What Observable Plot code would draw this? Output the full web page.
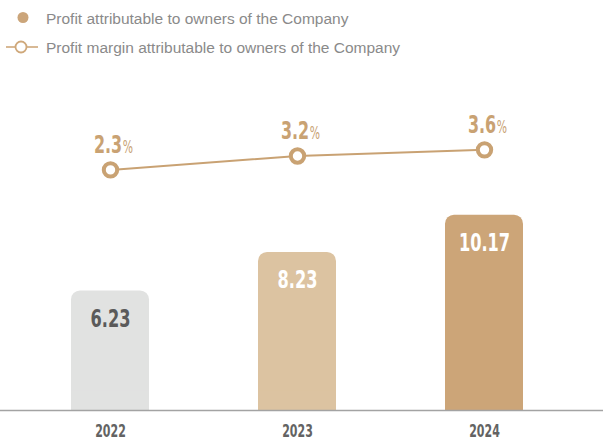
<!DOCTYPE html>
<html>
<head>
<meta charset="utf-8">
<script src="https://cdn.jsdelivr.net/npm/d3@7"></script>
<script src="https://cdn.jsdelivr.net/npm/@observablehq/plot@0.6"></script>
<style>
  html, body { margin: 0; padding: 0; background: #fff; }
  #legend { position: relative; width: 607px; height: 62px; font-family: "Liberation Sans", Arial, sans-serif; font-size: 15.5px; color: #8a8a8a; }
  #legend .row { position: absolute; left: 0; width: 607px; height: 20px; }
  #legend .row span { position: absolute; left: 46px; top: 1px; white-space: nowrap; line-height: 20px; }
  #chart { position: relative; width: 607px; height: 379px; }
  #chart svg { position: absolute; left: 0; top: 0; }
</style>
</head>
<body>
<div id="legend">
  <div class="row" style="top:8px">
    <svg width="40" height="20" style="position:absolute;left:0;top:0"><circle cx="23" cy="9.5" r="5.5" fill="#cba57a"></circle></svg>
    <span>Profit attributable to owners of the Company</span>
  </div>
  <div class="row" style="top:37px">
    <svg width="40" height="20" style="position:absolute;left:0;top:0"><line x1="6" x2="38" y1="10" y2="10" stroke="#cfa87a" stroke-width="1.6"></line><circle cx="21" cy="10" r="5.5" fill="#fff" stroke="#cfa87a" stroke-width="1.8"></circle></svg>
    <span>Profit margin attributable to owners of the Company</span>
  </div>
</div>
<div id="chart"></div>
<script>
const years = ["2022", "2023", "2024"];
const profit = [6.23, 8.23, 10.17];
const marginPct = [2.3, 3.2, 3.6];
const barColors = ["#e1e2e1", "#dcc3a1", "#cca578"];

const data = years.map((year, i) => ({ year, profit: profit[i], margin: marginPct[i] }));

const condensed = '"DejaVu Sans Condensed", "DejaVu Sans", sans-serif';
const gold = "#c9a273";
const W = 607, H = 379;
const xOpts = { type: "band", domain: years, paddingInner: 0.583, paddingOuter: 0.4037, align: 0.47 };

const main = Plot.plot({
  width: W, height: H,
  marginLeft: 0, marginRight: 4, marginTop: 40.8, marginBottom: 31,
  style: { fontFamily: condensed, background: "transparent", overflow: "visible" },
  x: { ...xOpts, axis: null },
  y: { domain: [0, 16], axis: null },
  color: { domain: years, range: barColors },
  marks: [
    Plot.barY(data, { x: "year", y: "profit", fill: "year", rx: 9 }),
    Plot.barY(data, { x: "year", y1: () => 0, y2: () => 1, fill: "year" }),
    Plot.ruleY([0], { stroke: "#a3a3a3", strokeWidth: 1.5 }),
    Plot.text(data, { className: "vlabel", filter: d => d.year === "2022", x: "year", y: "profit", text: d => d.profit.toFixed(2), dy: 36, lineAnchor: "bottom", fontSize: 25, fontWeight: "bold", fill: "#5a5a5a" }),
    Plot.text(data, { className: "vlabel", filter: d => d.year !== "2022", x: "year", y: "profit", text: d => d.profit.toFixed(2), dy: 36, lineAnchor: "bottom", fontSize: 25, fontWeight: "bold", fill: "#ffffff" }),
    Plot.axisX({ tickSize: 0, tickPadding: 14, fontSize: 17, fontWeight: "bold", color: "#636363", label: null })
  ]
});

const overlay = Plot.plot({
  width: W, height: H,
  marginLeft: 0, marginRight: 4,
  style: { fontFamily: condensed, background: "transparent", overflow: "visible" },
  x: { ...xOpts, axis: null },
  y: { domain: [0, 4], range: [142.8, 81.2], axis: null },
  marks: [
    Plot.lineY(data, { x: "year", y: "margin", stroke: gold, strokeWidth: 2 }),
    Plot.dot(data, { x: "year", y: "margin", r: 6.7, fill: "#fff", stroke: gold, strokeWidth: 4 }),
    Plot.text(data, { className: "plabel", x: "year", y: "margin", text: d => d.margin.toFixed(1) + "%", textAnchor: "middle", dx: 3, dy: -17, lineAnchor: "bottom", fontSize: 25, fontWeight: "bold", fill: gold })
  ]
});

const chart = document.getElementById("chart");
chart.appendChild(main);
chart.appendChild(overlay);

// render the "%" sign smaller and lighter, inside the same text element
d3.select(overlay).selectAll(".plabel text").each(function () {
  const s = this.textContent;
  const num = s.slice(0, -1);
  this.textContent = num;
  const t = document.createElementNS("http://www.w3.org/2000/svg", "tspan");
  t.setAttribute("font-size", 17);
  t.setAttribute("font-weight", "normal");
  t.setAttribute("dx", 1);
  t.textContent = "%";
  this.appendChild(t);
});

function squeeze(root, selector, ratio) {
  d3.select(root).selectAll(selector).each(function () {
    const L = this.getComputedTextLength();
    this.setAttribute("textLength", (L * ratio).toFixed(2));
    this.setAttribute("lengthAdjust", "spacingAndGlyphs");
  });
}
squeeze(main, ".vlabel text", 0.72);
squeeze(main, 'g[aria-label="x-axis tick label"] text', 0.72);
squeeze(overlay, ".plabel text", 0.72);
</script>
</body>
</html>
